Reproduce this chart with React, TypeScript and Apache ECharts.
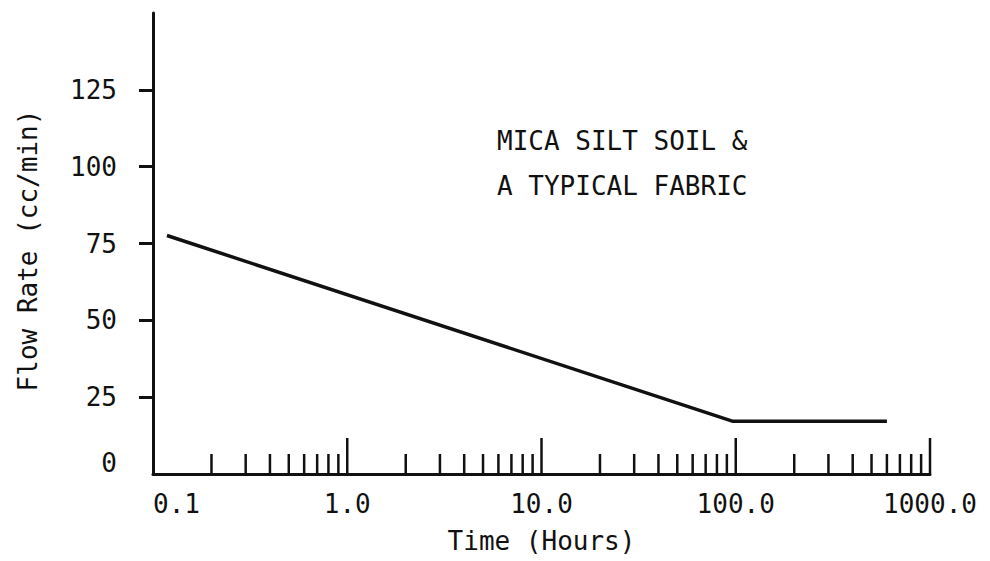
import React, { useEffect, useRef } from "react";
import * as echarts from "echarts";

// ---- data ----
const flowTime: number[] = [0.118, 96, 600];
const flowRate: number[] = [77.6, 17.2, 17.2];

const xTickValues: number[] = [0.1, 1, 10, 100, 1000];
const xTickLabels: string[] = ["0.1", "1.0", "10.0", "100.0", "1000.0"];
const xMajorTicks: number[] = [1, 10, 100, 1000];
const xMinorTicks: number[] = [
  0.2, 0.3, 0.4, 0.5, 0.6, 0.7, 0.8, 0.9,
  2, 3, 4, 5, 6, 7, 8, 9,
  20, 30, 40, 50, 60, 70, 80, 90,
  200, 300, 400, 500, 600, 700, 800, 900,
];
const yTickValues: number[] = [25, 50, 75, 100, 125];
const yLabelValues: number[] = [0, 25, 50, 75, 100, 125];

const annotationLines: string[] = ["MICA SILT SOIL &", "A TYPICAL FABRIC"];
const xAxisName = "Time (Hours)";
const yAxisName = "Flow Rate (cc/min)";

const FONT = "DejaVu Sans Mono";
const INK = "#111";

function tickSeries(values: number[], len: number) {
  return {
    type: "custom",
    silent: true,
    clip: false,
    data: values.map((v) => [v, 0]),
    renderItem: (params: any, api: any) => {
      const p = api.coord([api.value(0), api.value(1)]);
      return {
        type: "line",
        shape: { x1: p[0], y1: p[1], x2: p[0], y2: p[1] - len },
        style: { stroke: INK, lineWidth: 2.5 },
      };
    },
    z: 3,
  };
}

export default function App() {
  const ref = useRef<HTMLDivElement>(null);
  useEffect(() => {
    if (!ref.current) return;
    const chart = echarts.init(ref.current, null, { renderer: "svg" });
    chart.setOption({
      animation: false,
      backgroundColor: "#fff",
      grid: { left: 153, right: 60, top: 13, bottom: 87, containLabel: false },
      xAxis: {
        type: "log",
        logBase: 10,
        min: 0.1,
        max: 1000,
        name: xAxisName,
        nameLocation: "middle",
        nameGap: 54,
        nameTextStyle: { fontFamily: FONT, fontSize: 26, color: INK },
        axisLine: { show: true, lineStyle: { color: INK, width: 3 } },
        axisTick: { show: false },
        splitLine: { show: false },
        minorTick: { show: false },
        axisLabel: {
          fontFamily: FONT,
          fontSize: 26,
          color: INK,
          margin: 17,
          alignMinLabel: "left",
          formatter: (v: number) => {
            const i = xTickValues.findIndex(
              (t) => Math.abs(Math.log10(t) - Math.log10(v)) < 1e-6
            );
            return i >= 0 ? xTickLabels[i] : "";
          },
        },
      },
      yAxis: {
        type: "value",
        min: 0,
        max: 150,
        interval: 25,
        name: yAxisName,
        nameLocation: "middle",
        nameGap: 112,
        nameTextStyle: { fontFamily: FONT, fontSize: 26, color: INK, padding: [0, 14, 0, 0] },
        axisLine: { show: true, lineStyle: { color: INK, width: 3 } },
        axisTick: {
          show: true,
          inside: false,
          length: 14,
          customValues: yTickValues,
          lineStyle: { color: INK, width: 3 },
        },
        splitLine: { show: false },
        axisLabel: {
          fontFamily: FONT,
          fontSize: 26,
          color: INK,
          margin: 36,
          customValues: yLabelValues,
          formatter: (v: number) => (v === 0 ? "{z|0}" : String(v)),
          rich: {
            z: { fontFamily: FONT, fontSize: 26, color: INK, padding: [0, 0, 22, 0] },
          },
        },
      },
      graphic: [
        {
          type: "text",
          left: 497,
          top: 118,
          style: {
            text: annotationLines.join("\n"),
            fontFamily: FONT,
            fontSize: 26,
            lineHeight: 45,
            fill: INK,
          },
        },
      ],
      series: [
        {
          type: "line",
          data: flowTime.map((t, i) => [t, flowRate[i]]),
          symbol: "none",
          lineStyle: { color: INK, width: 3.5 },
          z: 4,
        },
        tickSeries(xMajorTicks, 36),
        tickSeries(xMinorTicks, 20),
      ],
    });
    return () => chart.dispose();
  }, []);
  return <div ref={ref} style={{ width: 990, height: 561, position: "absolute", left: 0, top: 0 }} />;
}
